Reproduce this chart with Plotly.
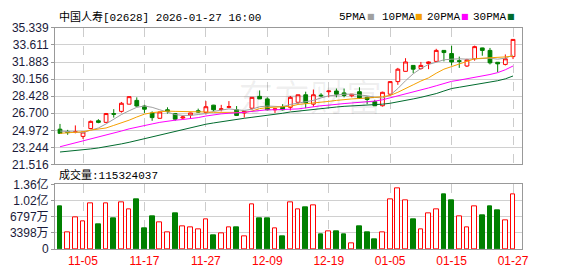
import plotly.graph_objects as go

dates = ["10-31", "11-03", "11-04", "11-05", "11-06", "11-07", "11-10", "11-11", "11-12", "11-13",
         "11-14", "11-17", "11-18", "11-19", "11-20", "11-21", "11-24", "11-25", "11-26", "11-27",
         "11-28", "12-01", "12-02", "12-03", "12-04", "12-05", "12-08", "12-09", "12-10", "12-11",
         "12-12", "12-15", "12-16", "12-17", "12-18", "12-19", "12-22", "12-23", "12-24", "12-29",
         "12-30", "12-31", "01-02", "01-05", "01-06", "01-07", "01-08", "01-09", "01-12", "01-13",
         "01-14", "01-15", "01-16", "01-19", "01-20", "01-21", "01-22", "01-23", "01-26", "01-27"]

opens = [25.09, 24.86, 24.80, 24.36, 25.15, 25.94, 25.78, 26.67, 26.89, 27.62,
         28.00, 27.43, 26.73, 26.19, 27.05, 26.67, 26.22, 26.51, 26.95, 26.79,
         27.52, 27.08, 27.30, 27.05, 26.73, 27.21, 28.41, 28.15, 27.05, 27.36,
         27.30, 27.81, 28.57, 27.62, 28.53, 28.88, 28.95, 28.76, 28.47, 28.88,
         28.31, 27.87, 27.46, 28.63, 29.90, 30.94, 31.54, 31.23, 31.73, 31.95,
         33.06, 32.74, 32.02, 31.48, 32.21, 33.31, 33.06, 31.86, 31.64, 32.43]
highs = [25.62, 25.02, 25.47, 24.82, 25.97, 26.10, 26.73, 27.11, 27.84, 28.40,
         28.31, 27.55, 26.89, 26.85, 27.30, 26.73, 26.48, 26.75, 27.17, 27.93,
         27.55, 27.55, 27.93, 27.43, 26.91, 28.33, 29.01, 28.31, 27.16, 27.62,
         28.44, 28.58, 28.88, 29.10, 28.73, 29.00, 29.20, 29.20, 28.64, 29.33,
         28.38, 28.06, 28.88, 29.96, 31.29, 32.27, 31.56, 31.89, 31.95, 33.22,
         33.08, 33.54, 32.43, 32.21, 33.54, 33.33, 33.31, 31.88, 32.65, 34.19]
lows = [24.61, 24.52, 24.67, 24.10, 25.09, 25.69, 25.72, 26.26, 26.76, 27.60,
        27.36, 26.73, 25.94, 26.15, 26.67, 25.94, 26.10, 26.16, 26.73, 26.57,
        26.89, 26.89, 27.21, 26.42, 26.26, 27.05, 28.14, 26.98, 26.73, 26.98,
        26.98, 27.62, 27.21, 27.36, 28.31, 28.31, 28.31, 28.31, 28.31, 28.16,
        27.62, 27.43, 27.38, 28.47, 29.58, 30.92, 30.75, 31.10, 31.16, 31.89,
        31.95, 31.54, 31.29, 31.38, 32.02, 32.52, 31.64, 30.85, 31.54, 32.18]
closes = [24.67, 24.74, 24.82, 24.80, 25.88, 25.78, 26.67, 26.60, 27.71, 28.38,
          27.43, 27.11, 26.26, 26.83, 26.89, 26.10, 26.32, 26.73, 26.82, 27.36,
          27.05, 27.14, 27.36, 26.48, 26.89, 28.31, 28.15, 27.05, 27.14, 27.05,
          28.31, 28.57, 27.74, 28.57, 28.47, 28.95, 28.63, 28.50, 28.63, 28.25,
          28.09, 27.46, 28.82, 29.90, 31.16, 31.89, 31.16, 31.54, 31.89, 33.06,
          32.84, 31.89, 31.95, 32.11, 33.44, 33.06, 31.80, 31.70, 32.21, 34.17]

ma5 = [24.90, 24.83, 24.77, 24.74, 24.99, 25.21, 25.62, 26.10, 26.57, 26.95,
       27.30, 27.43, 27.30, 27.05, 26.79, 26.57, 26.48, 26.48, 26.57, 26.67,
       26.89, 27.05, 27.14, 27.05, 26.98, 27.11, 27.36, 27.43, 27.43, 27.36,
       27.59, 27.74, 27.84, 28.00, 28.25, 28.47, 28.53, 28.63, 28.63, 28.57,
       28.47, 28.31, 28.25, 28.53, 29.20, 29.99, 30.69, 31.23, 31.64, 31.86,
       32.11, 32.17, 32.21, 32.17, 32.21, 32.21, 32.27, 32.17, 32.27, 32.59]
ma10 = [24.67, 24.71, 24.74, 24.83, 24.99, 25.09, 25.21, 25.47, 25.72, 26.00,
        26.32, 26.61, 26.76, 26.86, 26.92, 26.89, 26.89, 26.89, 26.86, 26.83,
        26.79, 26.79, 26.83, 26.79, 26.79, 26.92, 27.17, 27.27, 27.30, 27.33,
        27.40, 27.59, 27.65, 27.74, 27.81, 27.90, 28.00, 28.09, 28.15, 28.19,
        28.22, 28.31, 28.38, 28.50, 28.82, 29.17, 29.58, 29.96, 30.28, 30.75,
        31.16, 31.42, 31.70, 31.95, 32.21, 32.27, 32.30, 32.33, 32.40, 32.49]
ma20 = [23.31, 23.50, 23.69, 23.88, 24.07, 24.26, 24.45, 24.67, 24.90, 25.12,
        25.31, 25.47, 25.62, 25.78, 25.91, 26.00, 26.07, 26.13, 26.26, 26.42,
        26.54, 26.64, 26.70, 26.73, 26.79, 26.89, 26.98, 27.05, 27.05, 27.08,
        27.08, 27.14, 27.24, 27.36, 27.46, 27.52, 27.62, 27.68, 27.74, 27.78,
        27.84, 27.93, 28.06, 28.25, 28.47, 28.69, 28.88, 29.07, 29.26, 29.48,
        29.71, 29.93, 30.05, 30.18, 30.34, 30.47, 30.62, 30.81, 31.10, 31.48]
ma30 = [22.78, 22.84, 22.90, 23.00, 23.09, 23.19, 23.31, 23.44, 23.60, 23.76,
        23.95, 24.14, 24.33, 24.52, 24.71, 24.90, 25.05, 25.24, 25.40, 25.59,
        25.72, 25.85, 25.97, 26.10, 26.19, 26.29, 26.38, 26.48, 26.57, 26.70,
        26.83, 26.92, 27.02, 27.11, 27.21, 27.30, 27.33, 27.40, 27.43, 27.49,
        27.52, 27.59, 27.62, 27.71, 27.84, 28.00, 28.15, 28.31, 28.47, 28.69,
        28.95, 29.20, 29.33, 29.45, 29.58, 29.71, 29.83, 29.99, 30.18, 30.47]

volumes = [89500000, 35800000, 67000000, 57700000, 96800000, 51700000, 96800000, 65600000, 98800000, 82900000,
           105400000, 43800000, 69600000, 57000000, 35800000, 75600000, 47100000, 45100000, 41100000, 63000000,
           29800000, 33200000, 45100000, 45700000, 27200000, 94800000, 65600000, 65600000, 43100000, 27800000,
           98800000, 82900000, 87500000, 92800000, 31800000, 37100000, 37800000, 31800000, 11300000, 47700000,
           35800000, 19900000, 35100000, 104800000, 127300000, 102800000, 61700000, 41100000, 74900000, 82900000,
           115400000, 103400000, 69000000, 45100000, 90800000, 71600000, 89500000, 81500000, 61000000, 115324037]
# 1 = up day (red hollow volume bar), 0 = down day (green volume bar)
vol_up = [0, 1, 1, 1, 1, 0, 1, 0, 1, 1,
          0, 0, 0, 1, 1, 0, 1, 1, 1, 1,
          0, 1, 1, 0, 1, 1, 0, 0, 1, 0,
          1, 1, 0, 1, 0, 1, 0, 0, 1, 0,
          0, 0, 1, 1, 1, 1, 0, 1, 1, 1,
          0, 0, 1, 1, 1, 0, 0, 0, 1, 1]

tick_dates = ["11-05", "11-17", "11-27", "12-09", "12-19", "01-05", "01-15", "01-27"]
price_ticks = [21.516, 23.244, 24.972, 26.700, 28.428, 30.156, 31.883, 33.611, 35.339]
vol_ticks = [0, 33980000, 67970000, 101950000, 135940000]
vol_tick_text = ["0", "3398万", "6797万", "1.02亿", "1.36亿"]
title_text = "中国人寿[02628] 2026-01-27 16:00"
last_volume = 115324037

RED = "#ff0000"
GREEN = "#008000"
MA_COLORS = {"5PMA": "#a0a0a0", "10PMA": "#f5a000", "20PMA": "#ff00ff", "30PMA": "#006b2e"}

x = list(range(len(dates)))
tickvals = [dates.index(d) for d in tick_dates]

fig = go.Figure()

fig.add_trace(go.Candlestick(
    x=x, open=opens, high=highs, low=lows, close=closes,
    increasing=dict(line=dict(color=RED, width=1), fillcolor="#ffffff"),
    decreasing=dict(line=dict(color=GREEN, width=1), fillcolor=GREEN),
    whiskerwidth=0, xaxis="x", yaxis="y", showlegend=False, hoverinfo="skip"))

for name, vals in [("5PMA", ma5), ("10PMA", ma10), ("20PMA", ma20), ("30PMA", ma30)]:
    fig.add_trace(go.Scatter(x=x, y=vals, mode="lines", line=dict(color=MA_COLORS[name], width=1),
                             xaxis="x", yaxis="y", showlegend=False, hoverinfo="skip"))

fig.add_trace(go.Bar(
    x=x, y=volumes, width=0.62,
    marker=dict(color=["#ffffff" if u else GREEN for u in vol_up],
                line=dict(color=[RED if u else GREEN for u in vol_up], width=1)),
    xaxis="x2", yaxis="y2", showlegend=False, hoverinfo="skip"))

axis_font = dict(family="Liberation Sans, Noto Sans CJK SC, sans-serif", size=12, color="#1a1a3a")
xr = [-0.65, 60.17]

common_x = dict(range=xr, tickvals=tickvals, showgrid=True, gridcolor="#cccccc", griddash="dash",
                gridwidth=1, zeroline=False, showline=True, mirror=True, linecolor="#999999",
                linewidth=1, fixedrange=True)

fig.update_layout(
    width=578, height=276, margin=dict(l=55, r=56, t=0, b=0),
    paper_bgcolor="#ffffff", plot_bgcolor="#ffffff",
    xaxis=dict(**common_x, anchor="y", showticklabels=False, ticks="", rangeslider=dict(visible=False)),
    yaxis=dict(domain=[0.4004, 0.9239], range=[21.516, 35.339], tickvals=price_ticks,
               ticktext=[f"{v:.3f}" for v in price_ticks], showgrid=True, gridcolor="#d0d0d0",
               zeroline=False, showline=True, mirror=True, linecolor="#999999", linewidth=1,
               ticks="outside", ticklen=3, tickcolor="#999999", tickfont=axis_font),
    xaxis2=dict(**common_x, anchor="y2", ticktext=tick_dates, ticks="",
                tickfont=dict(family="Liberation Sans, sans-serif", size=12, color=RED)),
    yaxis2=dict(domain=[0.0761, 0.3243], range=[0, vol_ticks[-1]], tickvals=vol_ticks,
                ticktext=vol_tick_text, showgrid=True, gridcolor="#d0d0d0", zeroline=False,
                showline=True, mirror=True, linecolor="#999999", linewidth=1,
                ticks="outside", ticklen=3, tickcolor="#999999", tickfont=axis_font),
    bargap=0,
)

label_font = dict(family="Liberation Mono, Noto Sans CJK SC, monospace", size=11, color="#000000")

fig.add_annotation(text=title_text, xref="paper", yref="paper", x=0.0043, y=1 - 10 / 276,
                   xanchor="left", yanchor="middle", showarrow=False, font=label_font)
fig.add_annotation(text=f"成交量:{last_volume}", xref="paper", yref="paper", x=0.0043, y=1 - 177 / 276,
                   xanchor="left", yanchor="middle", showarrow=False, font=label_font)

legend_pos = {"5PMA": (337, 365), "10PMA": (380, 413), "20PMA": (425, 459), "30PMA": (471, 505)}
for name, (tx, sx) in legend_pos.items():
    fig.add_annotation(text=name, xref="paper", yref="paper", x=(tx - 55) / 467, y=1 - 9 / 276,
                       xanchor="left", yanchor="middle", showarrow=False, font=label_font)
    fig.add_annotation(text="■", xref="paper", yref="paper", x=(sx - 55) / 467, y=1 - 9 / 276,
                       xanchor="left", yanchor="middle", showarrow=False,
                       font=dict(family="DejaVu Sans", size=8, color=MA_COLORS[name]))

fig.add_annotation(text="东方财富", xref="paper", yref="paper", x=(310 - 55) / 467, y=1 - 92 / 276,
                   xanchor="center", yanchor="middle", showarrow=False,
                   font=dict(family="Noto Sans CJK SC", size=36, color="rgba(0,0,0,0.06)"))

fig.write_html("out.html")
